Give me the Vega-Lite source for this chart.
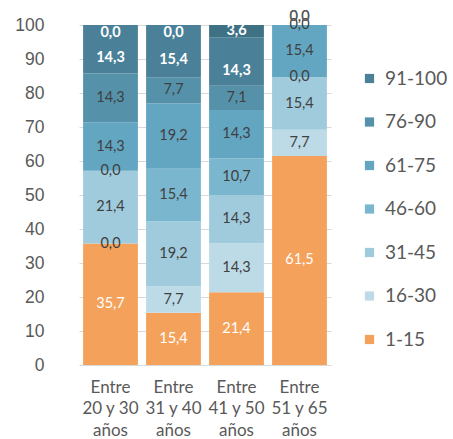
{
  "$schema": "https://vega.github.io/schema/vega-lite/v6.json",
  "autosize": {"type": "none"},
  "width": 252,
  "height": 340,
  "padding": {"left": 79, "top": 25, "right": 122, "bottom": 74},
  "config": {
    "locale": {"number": {"decimal": ",", "thousands": ".", "grouping": [3], "currency": ["", " €"]}},
    "view": {"stroke": null},
    "font": "Lato",
    "axisY": {
      "title": null, "domain": false, "ticks": false,
      "values": [0, 10, 20, 30, 40, 50, 60, 70, 80, 90, 100],
      "labelOverlap": false, "labelBound": false, "labelFlush": false,
      "labelFont": "Liberation Sans", "labelFontSize": 17.5, "labelColor": "#595959",
      "labelPadding": 35, "gridColor": "#d9d9d9", "gridWidth": 1
    }
  },
  "data": {"values": [
    {"grupo": "Entre 20 y 30 años", "serie": "1-15", "valor": 35.7},
    {"grupo": "Entre 20 y 30 años", "serie": "16-30", "valor": 0.0},
    {"grupo": "Entre 20 y 30 años", "serie": "31-45", "valor": 21.4},
    {"grupo": "Entre 20 y 30 años", "serie": "46-60", "valor": 0.0},
    {"grupo": "Entre 20 y 30 años", "serie": "61-75", "valor": 14.3},
    {"grupo": "Entre 20 y 30 años", "serie": "76-90", "valor": 14.3},
    {"grupo": "Entre 20 y 30 años", "serie": "91-100", "valor": 14.3},
    {"grupo": "Entre 20 y 30 años", "serie": "NS/NC", "valor": 0.0},
    {"grupo": "Entre 31 y 40 años", "serie": "1-15", "valor": 15.4},
    {"grupo": "Entre 31 y 40 años", "serie": "16-30", "valor": 7.7},
    {"grupo": "Entre 31 y 40 años", "serie": "31-45", "valor": 19.2},
    {"grupo": "Entre 31 y 40 años", "serie": "46-60", "valor": 15.4},
    {"grupo": "Entre 31 y 40 años", "serie": "61-75", "valor": 19.2},
    {"grupo": "Entre 31 y 40 años", "serie": "76-90", "valor": 7.7},
    {"grupo": "Entre 31 y 40 años", "serie": "91-100", "valor": 15.4},
    {"grupo": "Entre 31 y 40 años", "serie": "NS/NC", "valor": 0.0},
    {"grupo": "Entre 41 y 50 años", "serie": "1-15", "valor": 21.4},
    {"grupo": "Entre 41 y 50 años", "serie": "16-30", "valor": 14.3},
    {"grupo": "Entre 41 y 50 años", "serie": "31-45", "valor": 14.3},
    {"grupo": "Entre 41 y 50 años", "serie": "46-60", "valor": 10.7},
    {"grupo": "Entre 41 y 50 años", "serie": "61-75", "valor": 14.3},
    {"grupo": "Entre 41 y 50 años", "serie": "76-90", "valor": 7.1},
    {"grupo": "Entre 41 y 50 años", "serie": "91-100", "valor": 14.3},
    {"grupo": "Entre 41 y 50 años", "serie": "NS/NC", "valor": 3.6},
    {"grupo": "Entre 51 y 65 años", "serie": "1-15", "valor": 61.5},
    {"grupo": "Entre 51 y 65 años", "serie": "16-30", "valor": 7.7},
    {"grupo": "Entre 51 y 65 años", "serie": "31-45", "valor": 15.4},
    {"grupo": "Entre 51 y 65 años", "serie": "46-60", "valor": 0.0},
    {"grupo": "Entre 51 y 65 años", "serie": "61-75", "valor": 15.4},
    {"grupo": "Entre 51 y 65 años", "serie": "76-90", "valor": 0.0},
    {"grupo": "Entre 51 y 65 años", "serie": "91-100", "valor": 0.0},
    {"grupo": "Entre 51 y 65 años", "serie": "NS/NC", "valor": 0.0}
  ]},
  "transform": [
    {"stack": "valor", "groupby": ["grupo"], "sort": [{"field": "serie", "order": "ascending"}], "as": ["y0", "y1"]},
    {"calculate": "(datum.y0 + datum.y1) / 2", "as": "ymid"}
  ],
  "encoding": {
    "x": {
      "field": "grupo", "type": "nominal", "sort": null,
      "scale": {"paddingInner": 0.13, "paddingOuter": 0.065},
      "axis": {
        "title": null, "domain": false, "ticks": false, "labelAngle": 0,
        "labelFont": "Lato", "labelFontSize": 17, "labelColor": "#595959",
        "labelPadding": 14, "labelLineHeight": 21.5, "labelOverlap": false, "labelBound": false,
        "labelExpr": "[slice(datum.label, 0, 5), slice(datum.label, 6, -5), slice(datum.label, -4)]"
      }
    }
  },
  "layer": [
    {
      "mark": {"type": "bar"},
      "encoding": {
        "y": {
          "field": "y0", "type": "quantitative",
          "scale": {"domain": [0, 100], "nice": false}
        },
        "y2": {"field": "y1"},
        "color": {
          "field": "serie", "type": "nominal",
          "scale": {
            "domain": ["1-15", "16-30", "31-45", "46-60", "61-75", "76-90", "91-100", "NS/NC"],
            "range": ["#f4a25b", "#bddae7", "#9fcbdd", "#7ab7cf", "#63a6c2", "#5592aa", "#4a8199", "#3f7185"]
          },
          "legend": {
            "title": null, "orient": "none", "legendX": 281, "legendY": 44,
            "values": ["91-100", "76-90", "61-75", "46-60", "31-45", "16-30", "1-15"],
            "symbolType": "square", "symbolSize": 85, "symbolStrokeWidth": 0,
            "labelFont": "Lato", "labelFontSize": 19, "labelColor": "#595959",
            "labelOffset": 6, "rowPadding": 23.5
          }
        }
      }
    },
    {
      "transform": [{"filter": {"field": "serie", "oneOf": ["1-15", "16-30", "31-45", "46-60", "61-75", "76-90"]}}],
      "mark": {"type": "text", "font": "Lato", "fontSize": 14.5, "baseline": "middle"},
      "encoding": {
        "y": {"field": "ymid", "type": "quantitative"},
        "text": {"field": "valor", "type": "quantitative", "format": ".1f"},
        "color": {"condition": {"test": "datum.serie === '1-15'", "value": "white"}, "value": "#404040"}
      }
    },
    {
      "transform": [{"filter": "datum.serie === '91-100' && datum.valor > 0"}],
      "mark": {"type": "text", "font": "Lato", "fontSize": 14.5, "fontWeight": "bold", "baseline": "middle", "color": "white", "dy": 9},
      "encoding": {
        "y": {"field": "ymid", "type": "quantitative"},
        "text": {"field": "valor", "type": "quantitative", "format": ".1f"}
      }
    },
    {
      "transform": [{"filter": "datum.serie === 'NS/NC' && datum.valor > 0"}],
      "mark": {"type": "text", "font": "Lato", "fontSize": 14.5, "fontWeight": "bold", "baseline": "middle", "color": "white"},
      "encoding": {
        "y": {"field": "ymid", "type": "quantitative"},
        "text": {"field": "valor", "type": "quantitative", "format": ".1f"}
      }
    },
    {
      "transform": [{"filter": "datum.serie === 'NS/NC' && datum.valor === 0 && datum.grupo !== 'Entre 51 y 65 años'"}],
      "mark": {"type": "text", "font": "Lato", "fontSize": 14.5, "fontWeight": "bold", "baseline": "middle", "color": "white", "dy": 8},
      "encoding": {
        "y": {"field": "ymid", "type": "quantitative"},
        "text": {"field": "valor", "type": "quantitative", "format": ".1f"}
      }
    },
    {
      "transform": [{"filter": "(datum.serie === 'NS/NC' || datum.serie === '91-100') && datum.valor === 0 && datum.grupo === 'Entre 51 y 65 años'"}],
      "mark": {"type": "text", "font": "Lato", "fontSize": 14.5, "baseline": "middle", "color": "#595959", "dy": -8},
      "encoding": {
        "y": {"field": "ymid", "type": "quantitative"},
        "text": {"field": "valor", "type": "quantitative", "format": ".1f"}
      }
    }
  ]
}
